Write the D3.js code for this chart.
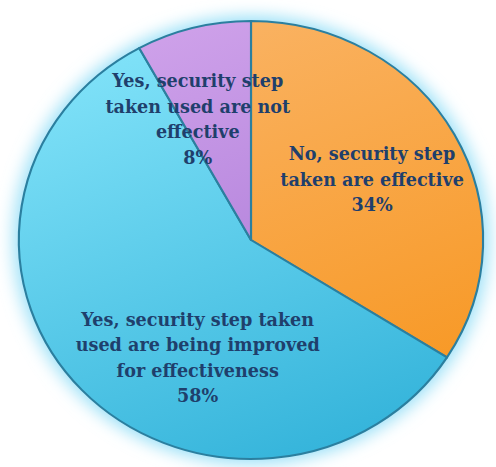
<!DOCTYPE html>
<html>
<head>
<meta charset="utf-8">
<script src="https://cdn.jsdelivr.net/npm/d3@7/dist/d3.min.js"></script>
<style>
  html, body { margin: 0; padding: 0; background: #ffffff; }
  svg { display: block; }
  .lbl { font-family: "DejaVu Serif", "Liberation Serif", serif; font-weight: bold; }
</style>
</head>
<body>
<svg id="chart" width="496" height="467"></svg>
<script>
// Survey answers, clockwise from 12 o'clock
const categories = [
  "No, security step taken are effective",
  "Yes, security step taken used are being improved for effectiveness",
  "Yes, security step taken used are not effective"
];
const shares = [34, 58, 8];
const labelLines = [
  ["No, security step", "taken are effective", "34%"],
  ["Yes, security step taken", "used are being improved", "for effectiveness", "58%"],
  ["Yes, security step", "taken used are not", "effective", "8%"]
];
const sliceColors = [
  ["#fab466", "#f7961f"],
  ["#82e3f9", "#33b3da"],
  ["#cfa2ea", "#a26fd3"]
];

const svg = d3.select("#chart");
const cx = 251, cy = 240, R = 219, sx = 1.06;

const defs = svg.append("defs");
sliceColors.forEach((c, i) => {
  const g = defs.append("linearGradient")
    .attr("id", "grad" + i)
    .attr("gradientUnits", "userSpaceOnUse")
    .attr("x1", -R * 0.4).attr("y1", -R).attr("x2", R * 0.4).attr("y2", R);
  g.append("stop").attr("offset", "0%").attr("stop-color", c[0]);
  g.append("stop").attr("offset", "100%").attr("stop-color", c[1]);
});
const glow = defs.append("filter").attr("id", "glow")
  .attr("x", "-20%").attr("y", "-20%").attr("width", "140%").attr("height", "140%");
glow.append("feGaussianBlur").attr("stdDeviation", 8);

const root = svg.append("g").attr("transform", `translate(${cx},${cy}) scale(${sx},1)`);

// soft halo around the disc
root.append("circle")
  .attr("r", R + 5)
  .attr("fill", "#9ae0f7")
  .attr("filter", "url(#glow)");

const pie = d3.pie().sort(null).value(d => d)
  .startAngle(0).endAngle(2 * Math.PI);
const arcs = pie(shares);
const arc = d3.arc().innerRadius(0).outerRadius(R);

root.selectAll("path.slice")
  .data(arcs)
  .join("path")
  .attr("class", "slice")
  .attr("d", arc)
  .attr("fill", (d, i) => `url(#grad${i})`)
  .attr("stroke", "#2b7f9f")
  .attr("stroke-width", 2)
  .attr("stroke-linejoin", "round");

// label anchors: angle offset (radians, from slice middle), radius, horizontal nudge
const labelPlacement = [
  { dAngle: 0.04, r: 135, dx: -7 },
  { dAngle: -0.38, r: 130, dx: 5 },
  { dAngle: -0.17, r: 132, dx: 4 }
];

const labels = svg.append("g")
  .attr("class", "lbl")
  .attr("font-size", 17.6)
  .attr("fill", "#1f3f6c")
  .attr("text-anchor", "middle");

const lineGap = 25.5;
arcs.forEach((d, i) => {
  const p = labelPlacement[i];
  const a = (d.startAngle + d.endAngle) / 2 + p.dAngle;
  const x = cx + sx * p.r * Math.sin(a) + p.dx;
  const y = cy - p.r * Math.cos(a);
  const lines = labelLines[i];
  const y0 = y - (lines.length - 1) * lineGap / 2;
  const t = labels.append("text").attr("transform", `translate(${x},${y0})`);
  lines.forEach((ln, k) => {
    t.append("tspan")
      .attr("x", 0)
      .attr("y", k * lineGap)
      .attr("dy", "0.35em")
      .text(ln);
  });
});
</script>
</body>
</html>
